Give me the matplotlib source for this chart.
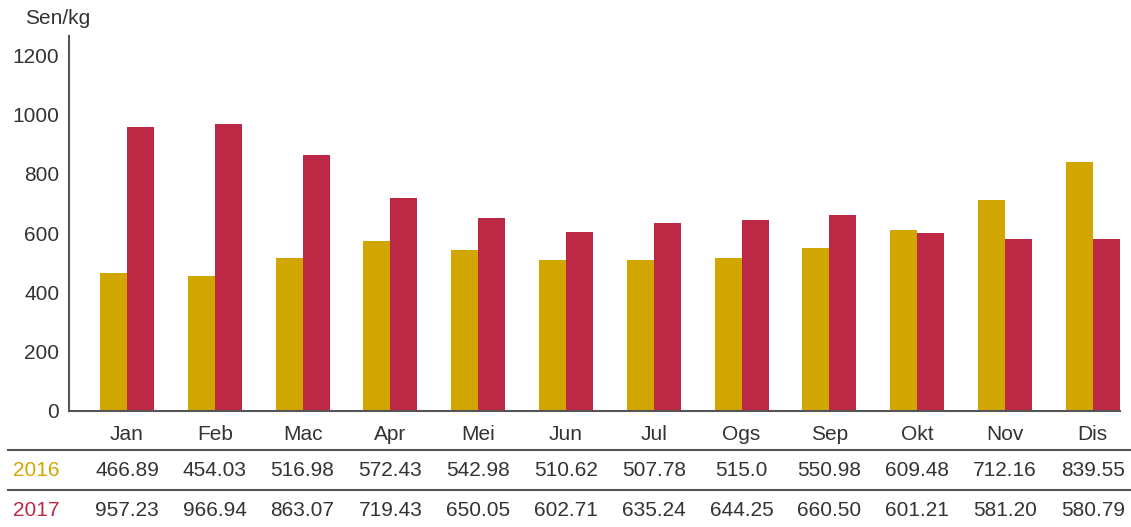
import numpy as np
import matplotlib.pyplot as plt
from matplotlib.lines import Line2D
from matplotlib.transforms import blended_transform_factory

months = ['Jan', 'Feb', 'Mac', 'Apr', 'Mei', 'Jun', 'Jul', 'Ogs', 'Sep', 'Okt', 'Nov', 'Dis']
price_2016 = [466.89, 454.03, 516.98, 572.43, 542.98, 510.62, 507.78, 515.0, 550.98, 609.48, 712.16, 839.55]
price_2017 = [957.23, 966.94, 863.07, 719.43, 650.05, 602.71, 635.24, 644.25, 660.50, 601.21, 581.20, 580.79]
labels_2016 = ['466.89', '454.03', '516.98', '572.43', '542.98', '510.62', '507.78', '515.0', '550.98', '609.48', '712.16', '839.55']
labels_2017 = ['957.23', '966.94', '863.07', '719.43', '650.05', '602.71', '635.24', '644.25', '660.50', '601.21', '581.20', '580.79']

gold = '#D2A600'
red = '#BD2945'
txt = '#333333'
line_c = '#555555'

plt.rcParams['font.family'] = ['Liberation Sans', 'DejaVu Sans']
fs = 15

W, H = 1131, 527
fig = plt.figure(figsize=(W / 100, H / 100), dpi=100)
ax = fig.add_axes([69 / W, 1 - 411 / H, (1120 - 69) / W, (411 - 36) / H])

x = np.arange(len(months))
w = 0.307
ax.bar(x - w / 2, price_2016, w, color=gold)
ax.bar(x + w / 2, price_2017, w, color=red)

ax.set_xlim(-0.66, 11.31)
ax.set_ylim(0, 1265)
ax.set_yticks([0, 200, 400, 600, 800, 1000, 1200])
ax.set_xticks(x)
ax.set_xticklabels(months)
ax.tick_params(length=0, labelsize=fs, colors=txt)
ax.tick_params(axis='y', pad=7)
ax.tick_params(axis='x', pad=10)
for s in ['top', 'right']:
    ax.spines[s].set_visible(False)
for s in ['left', 'bottom']:
    ax.spines[s].set_color(line_c)
    ax.spines[s].set_linewidth(1.5)

fig.text(25 / W, 1 - 18 / H, 'Sen/kg', fontsize=fs, color=txt, ha='left', va='center')

# data table below the chart
tr = blended_transform_factory(ax.transData, fig.transFigure)
rows = [(labels_2016, '2016', gold, 470), (labels_2017, '2017', red, 510)]
for vals, name, c, yp in rows:
    fig.text(13 / W, 1 - yp / H, name, fontsize=fs, color=c, ha='left', va='center')
    for xi, v in zip(x, vals):
        ax.text(xi, 1 - yp / H, v, transform=tr, fontsize=fs, color=txt,
                ha='center', va='center', clip_on=False)

for yp in [450, 490]:
    fig.add_artist(Line2D([8 / W, 1.0], [1 - yp / H] * 2, color=line_c, lw=1.5,
                          transform=fig.transFigure))

fig.savefig('out.png', dpi=100)
